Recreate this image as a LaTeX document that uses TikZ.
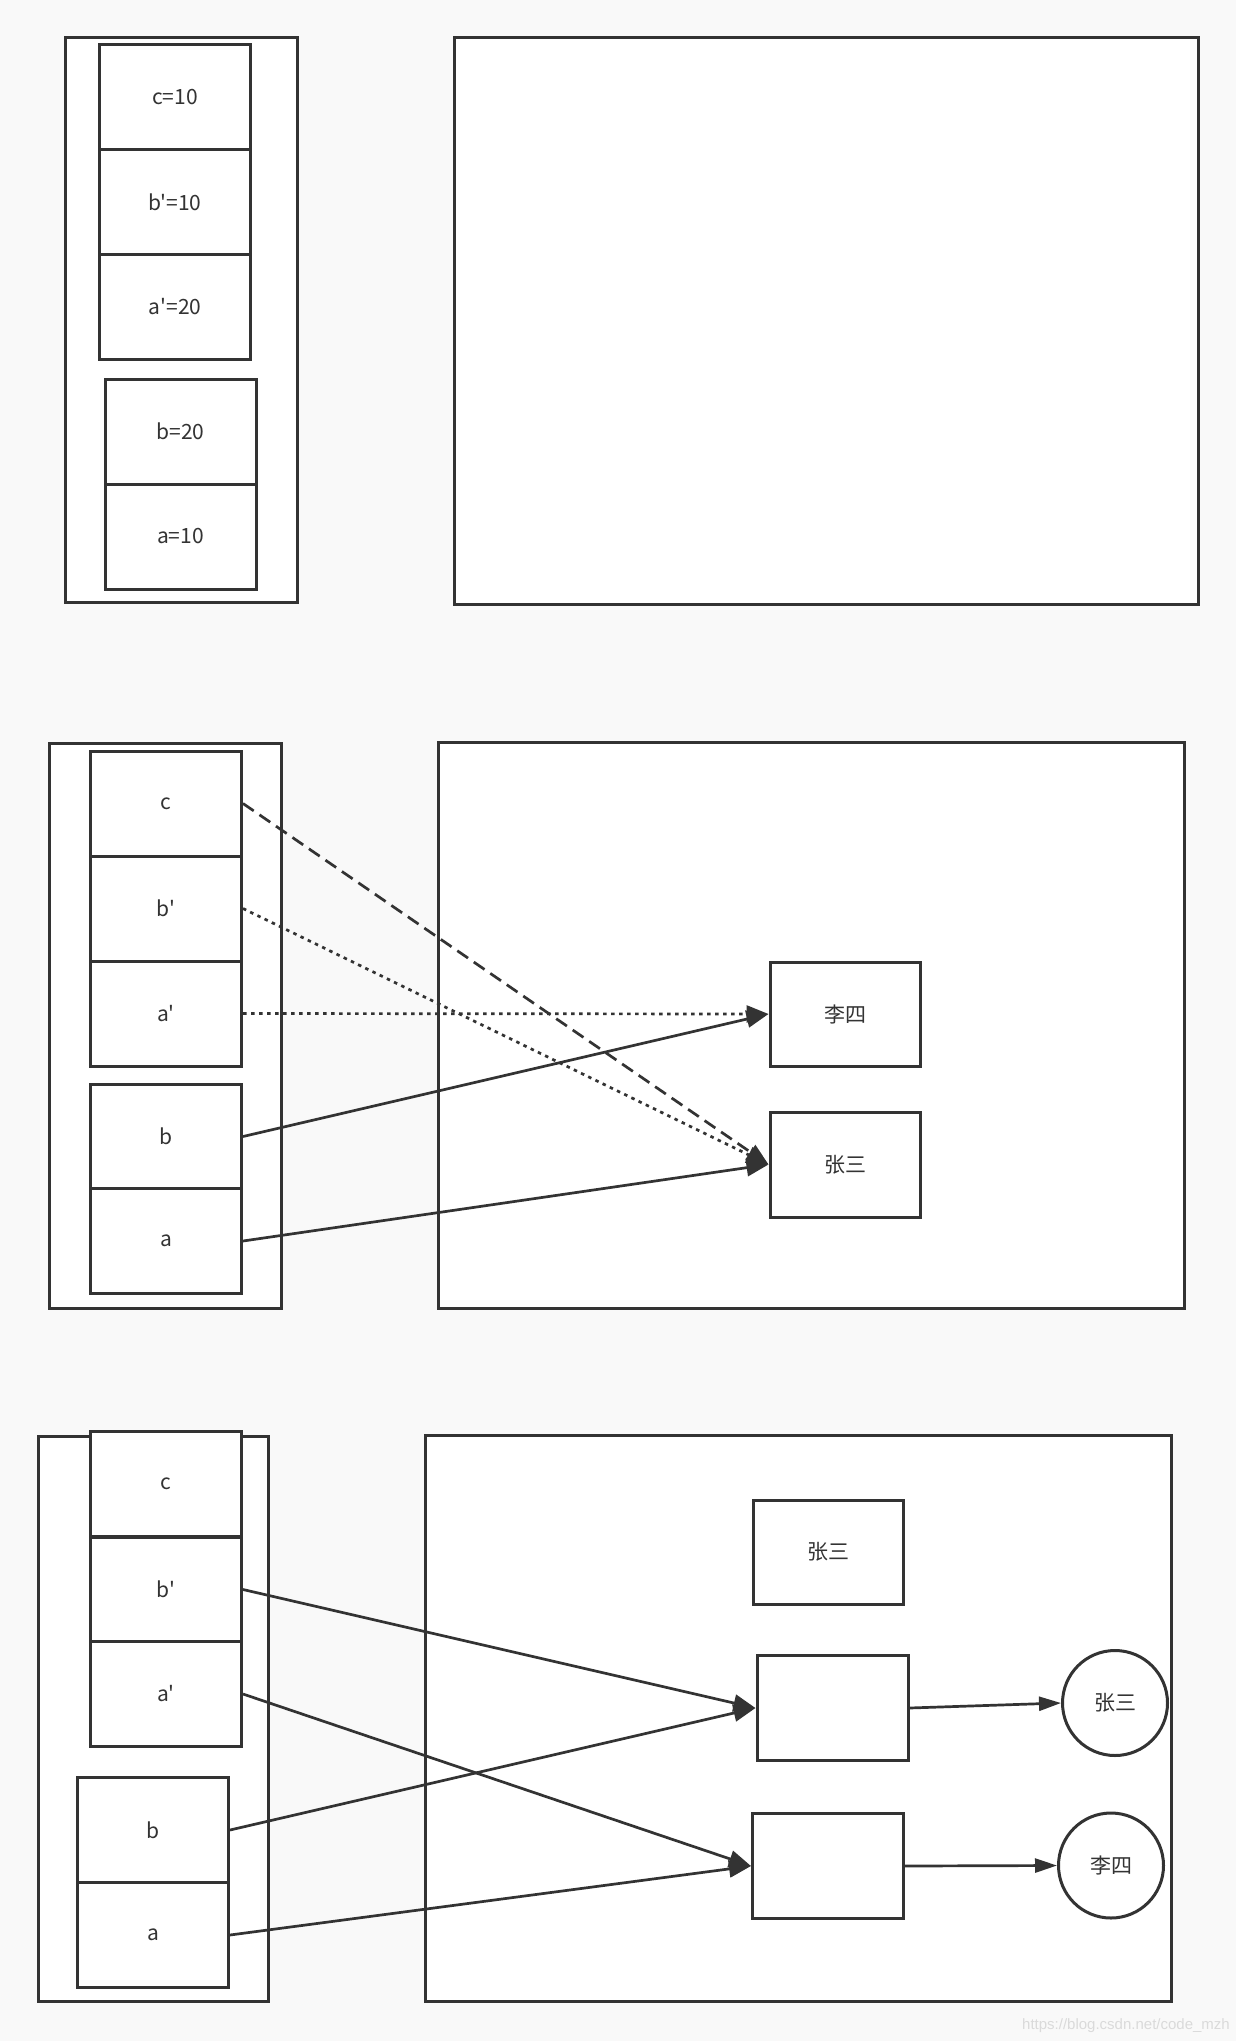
\documentclass[tikz,border=0pt]{standalone}
\usepackage{fontspec}
\newfontfamily\cjk{Noto Sans CJK SC}
\newfontfamily\wmfont{Liberation Sans}
\usetikzlibrary{arrows.meta}
\definecolor{bg}{HTML}{F9F9F9}
\definecolor{ln}{HTML}{333333}
\definecolor{wm}{HTML}{DADADA}
\begin{document}
\begin{tikzpicture}[x=1pt,y=-1pt,
  box/.style={draw=ln,fill=white,line width=3pt,inner sep=0pt,text=ln,font=\cjk\fontsize{21}{25}\selectfont},
  cell/.style={box,minimum width=151pt,minimum height=105pt},
  circ/.style={box,circle,minimum size=105pt},
  conn/.style={draw=ln,line width=2.7pt,-{Triangle[length=22pt,width=17pt]}},
  connsm/.style={draw=ln,line width=2.7pt,-{Triangle[length=22pt,width=14pt]}},
  dashline/.style={dash pattern=on 13pt off 7pt},
  dotline/.style={dash pattern=on 3.5pt off 4.5pt}]
\fill[bg] (0,0) rectangle (1236,2041);
\useasboundingbox (0,0) rectangle (1236,2041);

% ---------- panel 1 ----------
\node[box,minimum width=232pt,minimum height=564pt] (st1) at (181,320) {};
\node[box,minimum width=744pt,minimum height=566pt] (hp1) at (826,321) {};
\node[cell] (p1c) at (175,97.5) {c=10};
\node[cell] (p1bp) at (175,202.5) {b'=10};
\node[cell] (p1ap) at (175,307) {a'=20};
\node[cell] (p1b) at (180.5,431.5) {b=20};
\node[cell] (p1a) at (180.5,536.5) {a=10};

% ---------- panel 2 ----------
\node[box,minimum width=232pt,minimum height=565pt] (st2) at (165,1025.5) {};
\node[box,minimum width=746pt,minimum height=566pt] (hp2) at (811,1025) {};
\node[cell] (p2c) at (166,803.5) {c};
\node[cell] (p2bp) at (166,908.5) {b'};
\node[cell] (p2ap) at (166,1013.5) {a'};
\node[cell] (p2b) at (166,1136.5) {b};
\node[cell] (p2a) at (166,1241) {a};
\node[cell,minimum width=150pt,minimum height=104pt] (p2ls) at (845,1014) {李四};
\node[cell,minimum width=150pt,minimum height=105pt] (p2zs) at (845,1164.5) {张三};

\draw[conn,dashline] (p2c.east) -- (p2zs.west);
\draw[conn,dotline] (p2bp.east) -- (p2zs.west);
\draw[conn,dotline] (p2ap.east) -- (p2ls.west);
\draw[conn] (p2b.east) -- (p2ls.west);
\draw[conn] (p2a.east) -- (p2zs.west);

% ---------- panel 3 ----------
\node[box,minimum width=230pt,minimum height=565pt] (st3) at (153,1718.5) {};
\node[box,minimum width=746pt,minimum height=566pt] (hp3) at (798,1718) {};
\node[cell] (p3c) at (166,1484) {c};
\node[cell] (p3bp) at (166,1589.5) {b'};
\node[cell] (p3ap) at (166,1694) {a'};
\node[cell] (p3b) at (153,1830) {b};
\node[cell] (p3a) at (153,1935) {a};
\node[cell,minimum width=150pt,minimum height=104pt] (p3zs) at (828,1552) {张三};
\node[cell,minimum width=151pt,minimum height=105pt] (p3A) at (832.5,1708) {};
\node[cell,minimum width=151pt,minimum height=105pt] (p3B) at (828,1866) {};
\node[circ] (p3czs) at (1115,1703) {张三};
\node[circ] (p3cls) at (1111,1865.5) {李四};

\draw[conn] (p3bp.east) -- (p3A.west);
\draw[conn] (p3ap.east) -- (p3B.west);
\draw[conn] (p3b.east) -- (p3A.west);
\draw[conn] (p3a.east) -- (p3B.west);
\draw[connsm] (p3A.east) -- (p3czs.west);
\draw[connsm] (p3B.east) -- (p3cls.west);

% watermark
\node[text=wm,font=\wmfont\fontsize{15}{18}\selectfont,anchor=east,inner sep=0pt] (wmk) at (1230,2026) {https://blog.csdn.net/code\_mzh};
\end{tikzpicture}
\end{document}
